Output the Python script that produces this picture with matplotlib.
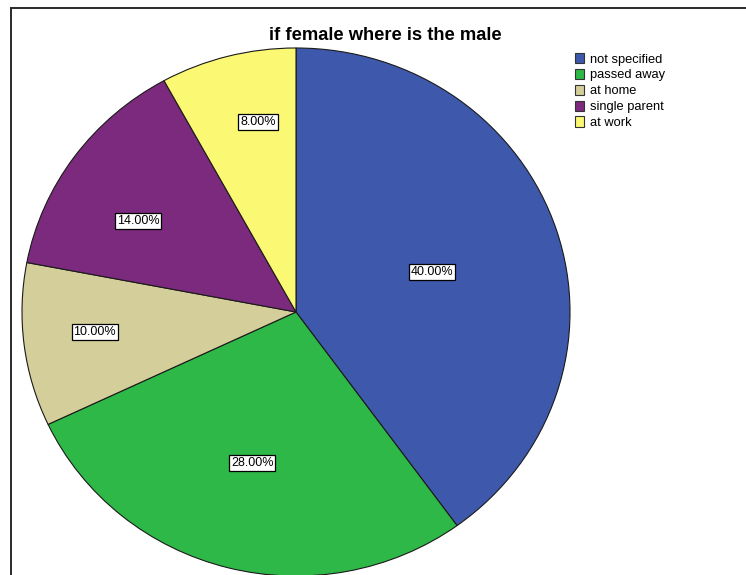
import matplotlib
matplotlib.use("Agg")
import numpy as np
import matplotlib.pyplot as plt
from matplotlib.lines import Line2D
from matplotlib.patches import Patch

plt.rcParams['font.family'] = ['Liberation Sans', 'DejaVu Sans']

title = "if female where is the male"
categories = ["not specified", "passed away", "at home", "single parent", "at work"]
percentages = [40.0, 28.0, 10.0, 14.0, 8.0]
colors = ["#3E58AC", "#2EB848", "#D4CE9A", "#7B2A7D", "#FBF873"]
# label placement: distance from centre and angular shift from the wedge mid-angle
label_radius = [0.52, 0.594, 0.738, 0.672, 0.733]
label_shift = [-1.0, -1.2, -1.3, 5.1, -3.5]

W, H = 746, 575
fig = plt.figure(figsize=(W / 100, H / 100), dpi=100)
ax = fig.add_axes([0, 0, 1, 1])

cx, cy, rx, ry = 296, 312, 274, 264
wedges, _ = ax.pie(percentages, colors=colors, startangle=90, counterclock=False,
                   radius=1.0, center=(0, 0),
                   wedgeprops=dict(edgecolor="#1a1a1a", linewidth=0.8))

ang = 90.0
for pct, r, sh in zip(percentages, label_radius, label_shift):
    span = pct / 100 * 360
    mid = np.deg2rad(ang - span / 2 + sh)
    ang -= span
    ax.text(r * np.cos(mid), r * np.sin(mid), f"{pct:.2f}%", ha="center", va="center",
            fontsize=9, color="black",
            bbox=dict(boxstyle="square,pad=0.15", fc="white", ec="black", lw=0.9))

ax.set_aspect("auto")
ax.set_xlim(-cx / rx, (W - cx) / rx)
ax.set_ylim((cy - H) / ry, cy / ry)
ax.axis("off")

fig.text(385 / W, 1 - 36 / H, title, ha="center", va="center",
         fontsize=13.2, fontweight="bold")

handles = [Patch(facecolor=c, edgecolor="#333333", linewidth=0.8) for c in colors]
fig.legend(handles, categories, loc="upper left",
           bbox_to_anchor=(575 / W, 1 - 53 / H), frameon=False,
           fontsize=9.3, handlelength=0.7, handleheight=0.85,
           handletextpad=0.5, labelspacing=0.25, borderpad=0, borderaxespad=0)

# outer frame (left and top edges visible)
fig.add_artist(Line2D([11 / W, 11 / W], [0, 1 - 8 / H], transform=fig.transFigure,
                      color="#2a2a2a", lw=1.4))
fig.add_artist(Line2D([11 / W, 1], [1 - 8 / H, 1 - 8 / H], transform=fig.transFigure,
                      color="#2a2a2a", lw=1.4))

fig.savefig("out.png", dpi=100)
